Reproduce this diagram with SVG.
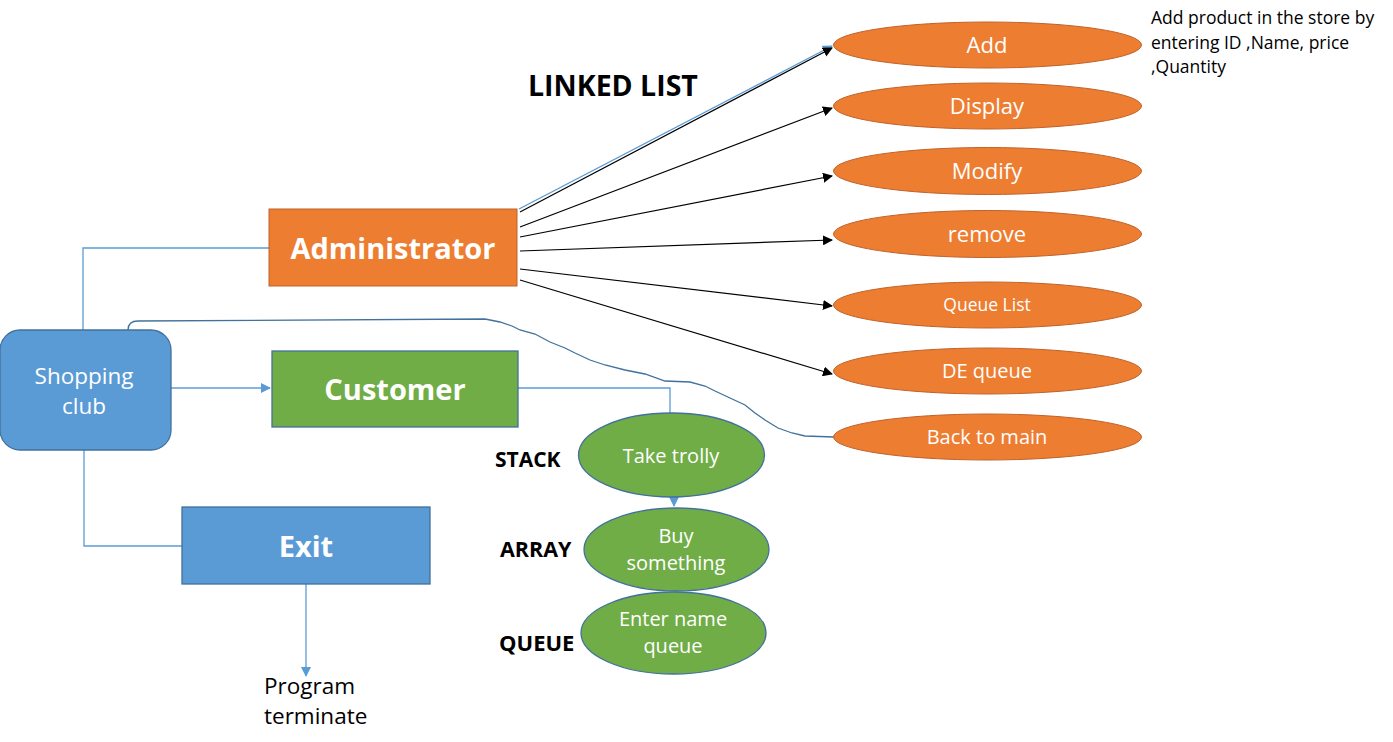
<svg xmlns="http://www.w3.org/2000/svg" width="1393" height="742" viewBox="0 0 1393 742">
<defs>
<marker id="ab" markerWidth="10" markerHeight="10" refX="9" refY="5" orient="auto" markerUnits="userSpaceOnUse"><path d="M0,0 L10,5 L0,10 z" fill="#000"/></marker>
<marker id="abl" markerWidth="10" markerHeight="10" refX="9" refY="5" orient="auto" markerUnits="userSpaceOnUse"><path d="M0,0 L10,5 L0,10 z" fill="#5b9bd5"/></marker>
</defs>
<style>
.or{fill:#ed7d31;stroke:#c0622a;stroke-width:1}
.gr{fill:#70ad47;stroke:#41719c;stroke-width:1.3}
.bl{fill:#5b9bd5;stroke:#41719c;stroke-width:1.3}
.t{font-family:"Open Sans","Liberation Sans",sans-serif;fill:#fff;text-anchor:middle}
.b{font-family:"Open Sans","Liberation Sans",sans-serif;font-weight:bold}
.k{font-family:"Open Sans","Liberation Sans",sans-serif;fill:#000}
.cb{fill:none;stroke:#5b9bd5;stroke-width:1.3}
.ck{fill:none;stroke:#000;stroke-width:1.2}
</style>
<g id="connectors">
<path class="cb" d="M83,330 V248 H269"/>
<path class="cb" d="M171,388 H270" marker-end="url(#abl)"/>
<path class="cb" d="M84,450 V546 H182"/>
<path class="cb" d="M306,584 V676" marker-end="url(#abl)"/>
<path class="cb" d="M518,388 H670 V414"/>
<path class="cb" d="M674,497 V506" marker-end="url(#abl)"/>
<path fill="none" stroke="#41719c" stroke-width="1.3" d="M128,340 V330 Q128,321 138,321 L485,319 L500,322 L512,326 L520,330 L535,334 L550,342 L565,348 L575,353 L590,360 L605,365 L625,370 L645,374 L665,381 L690,382 L705,386 L715,391 L730,398 L745,405 L755,413 L765,420 L778,428 L792,433 L805,436 L834,437"/>
<path d="M519,209 L832,46" fill="none" stroke="#5b9bd5" stroke-width="1.3" marker-end="url(#abl)"/>
<path class="ck" d="M520,212 L832,48" marker-end="url(#ab)"/>
<path class="ck" d="M520,227 L832,108" marker-end="url(#ab)"/>
<path class="ck" d="M520,237 L832,176" marker-end="url(#ab)"/>
<path class="ck" d="M520,251 L832,240" marker-end="url(#ab)"/>
<path class="ck" d="M520,269 L832,306" marker-end="url(#ab)"/>
<path class="ck" d="M520,280 L832,374" marker-end="url(#ab)"/>
</g>
<g id="shopping-club"><rect class="bl" x="0" y="330" width="171" height="120" rx="20"/><text class="t" font-size="22.5" x="84" y="384">Shopping</text><text class="t" font-size="22.5" x="84" y="414">club</text></g>
<g id="administrator"><rect x="269" y="209" width="248" height="77" fill="#ed7d31" stroke="#c0622a"/><text class="t b" font-size="29" x="393" y="259">Administrator</text></g>
<g id="customer"><rect x="272" y="351" width="246" height="76" fill="#70ad47" stroke="#41719c" stroke-width="1.3"/><text class="t b" font-size="29" x="395" y="400">Customer</text></g>
<g id="exit"><rect class="bl" x="182" y="507" width="248" height="77"/><text class="t b" font-size="29" x="306" y="557">Exit</text></g>
<g id="add"><ellipse class="or" cx="987.5" cy="45" rx="154" ry="23"/><text class="t" font-size="22" x="987" y="53">Add</text></g>
<g id="display"><ellipse class="or" cx="987.5" cy="106" rx="154" ry="23"/><text class="t" font-size="22" x="987" y="114">Display</text></g>
<g id="modify"><ellipse class="or" cx="987.5" cy="171" rx="154" ry="23.5"/><text class="t" font-size="22" x="987" y="179">Modify</text></g>
<g id="remove"><ellipse class="or" cx="987.5" cy="234" rx="154" ry="23.5"/><text class="t" font-size="22" x="987" y="242">remove</text></g>
<g id="queue-list"><ellipse class="or" cx="987.5" cy="305" rx="154" ry="23"/><text class="t" font-size="17.5" x="987" y="311">Queue List</text></g>
<g id="de-queue"><ellipse class="or" cx="987.5" cy="371" rx="154" ry="23"/><text class="t" font-size="20" x="987" y="378">DE queue</text></g>
<g id="back-to-main"><ellipse class="or" cx="987.5" cy="437" rx="154" ry="23"/><text class="t" font-size="20" x="987" y="444">Back to main</text></g>
<g id="take-trolly"><ellipse class="gr" cx="671.5" cy="455" rx="93" ry="42"/><text class="t" font-size="20" x="671" y="463">Take trolly</text></g>
<g id="buy-something"><ellipse class="gr" cx="676.5" cy="549.5" rx="92.5" ry="41.5"/><text class="t" font-size="20" x="676" y="543">Buy</text><text class="t" font-size="20" x="676" y="570">something</text></g>
<g id="enter-name-queue"><ellipse class="gr" cx="673.5" cy="633" rx="92.5" ry="41"/><text class="t" font-size="20" x="673" y="626">Enter name</text><text class="t" font-size="20" x="673" y="653">queue</text></g>
<g id="labels">
<text class="k b" font-size="28.5" x="528" y="96">LINKED LIST</text>
<text class="k b" font-size="21" x="495" y="467">STACK</text>
<text class="k b" font-size="21.5" x="500" y="557">ARRAY</text>
<text class="k b" font-size="22" x="499" y="651">QUEUE</text>
<text class="k" font-size="17.5" x="1151" y="24">Add product in the store by</text>
<text class="k" font-size="17.5" x="1151" y="49">entering ID ,Name, price</text>
<text class="k" font-size="17.5" x="1151" y="73">,Quantity</text>
<text class="k" font-size="22.5" x="264" y="694">Program</text>
<text class="k" font-size="22.5" x="264" y="724">terminate</text>
</g>
</svg>
